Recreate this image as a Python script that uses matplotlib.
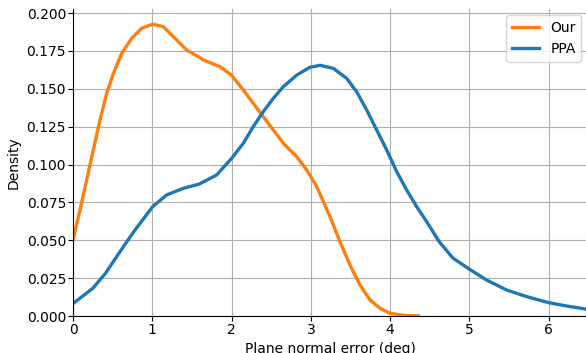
import matplotlib
matplotlib.use("Agg")
import matplotlib.pyplot as plt

# KDE curves (x in deg, y = density)
our_x = [0, 0.088, 0.172, 0.256, 0.341, 0.425, 0.509, 0.614, 0.74, 0.866, 1.005,
         1.139, 1.308, 1.434, 1.593, 1.644, 1.854, 2.0, 2.148, 2.274, 2.40, 2.527,
         2.653, 2.821, 2.948, 3.074, 3.242, 3.368, 3.494, 3.62, 3.746, 3.872, 3.998,
         4.167, 4.355]
our_y = [0.0503, 0.070, 0.0898, 0.1096, 0.1294, 0.147, 0.160, 0.1734, 0.1833, 0.1899,
         0.1927, 0.191, 0.1822, 0.1756, 0.1708, 0.169, 0.1646, 0.159, 0.1492, 0.1404,
         0.1316, 0.1228, 0.114, 0.1052, 0.0964, 0.0854, 0.0656, 0.049, 0.0337, 0.0205,
         0.0106, 0.0051, 0.0018, 0.0005, 0.0001]

ppa_x = [0, 0.25, 0.41, 0.58, 0.71, 0.80, 1.005, 1.181, 1.392, 1.593, 1.812, 2.0,
         2.148, 2.274, 2.40, 2.527, 2.653, 2.821, 2.989, 3.116, 3.283, 3.452, 3.578,
         3.705, 3.831, 3.957, 4.083, 4.209, 4.335, 4.461, 4.62, 4.793, 5.0, 5.215,
         5.468, 5.722, 6.0, 6.228, 6.5]
ppa_y = [0.0082, 0.0183, 0.0282, 0.0415, 0.0514, 0.058, 0.0722, 0.0799, 0.0843,
         0.0871, 0.0931, 0.104, 0.114, 0.125, 0.1349, 0.1437, 0.1514, 0.159, 0.1642,
         0.1655, 0.1635, 0.1569, 0.148, 0.136, 0.1228, 0.1096, 0.0953, 0.0832, 0.0722,
         0.0623, 0.049, 0.0382, 0.0309, 0.0238, 0.0172, 0.0128, 0.0088, 0.0066, 0.0043]

fig = plt.figure(figsize=(5.86, 3.53), dpi=100)
ax = fig.add_axes([73 / 586, 37 / 353, 515.3 / 586, 307.5 / 353])

ax.plot(our_x, our_y, color="#ff7f0e", lw=2.4, label="Our")
ax.plot(ppa_x, ppa_y, color="#1f77b4", lw=2.4, label="PPA")

ax.set_xlim(0, 6.5)
ax.set_ylim(0, 0.203)
ax.grid(True)
ax.set_axisbelow(True)
ax.spines["top"].set_visible(False)
ax.spines["right"].set_visible(False)
ax.tick_params(labelsize=10, pad=1.5)
ax.set_xlabel("Plane normal error (deg)", fontsize=10)
ax.set_ylabel("Density", fontsize=10)
ax.legend(loc="upper right", fontsize=10)

fig.savefig("out.png", dpi=100)
